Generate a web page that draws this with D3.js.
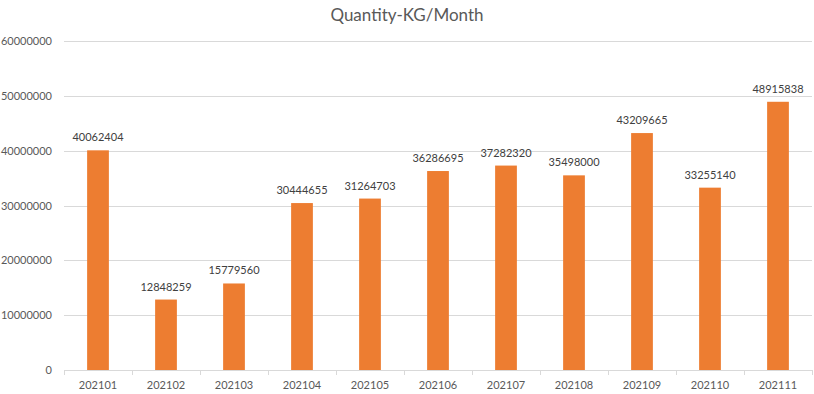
<!DOCTYPE html>
<html><head><meta charset="utf-8">
<script src="https://cdn.jsdelivr.net/npm/d3@7"></script>
<style>body{margin:0;background:#fff}svg{display:block}text{font-family:Lato,"Open Sans",sans-serif}</style>
</head><body><svg id="c" width="814" height="394"></svg>
<script>
const months = ["202101","202102","202103","202104","202105","202106","202107","202108","202109","202110","202111"];
const quantities = [40062404,12848259,15779560,30444655,31264703,36286695,37282320,35498000,43209665,33255140,48915838];
const yTicks = [0,10000000,20000000,30000000,40000000,50000000,60000000];
const title = "Quantity-KG/Month";

(function(){
const svg = d3.select("#c");
const pL = 64, pR = 812, pT = 41, pB = 370;
const x = d3.scaleBand().domain(months).range([pL, pR]).paddingInner(0.68).paddingOuter(0.34);
const y = d3.scaleLinear().domain([0, 60000000]).range([pB, pT]);

svg.append("text").attr("x", 407).attr("y", 21).attr("text-anchor","middle")
  .attr("font-size", 17).attr("fill", "#595959").text(title);

svg.append("g").selectAll("line").data(yTicks.filter(d=>d>0)).enter().append("line")
  .attr("x1", pL).attr("x2", pR).attr("y1", d=>Math.round(y(d))+0.5).attr("y2", d=>Math.round(y(d))+0.5)
  .attr("stroke", "#D9D9D9").attr("stroke-width", 1);

const yAxis = svg.append("g").attr("transform", `translate(${pL},0)`)
  .call(d3.axisLeft(y).tickValues(yTicks).tickFormat(d=>String(d)).tickSize(0).tickPadding(12));
yAxis.select(".domain").remove();
yAxis.selectAll("text").attr("font-size", 11).attr("fill", "#595959").style("font-family","Lato,'Open Sans',sans-serif");

svg.selectAll("rect.bar").data(quantities).enter().append("rect")
  .attr("x", (d,i)=>x(months[i])).attr("width", x.bandwidth())
  .attr("y", d=>y(d)).attr("height", d=>y(0)-y(d)).attr("fill", "#ED7D31");

svg.selectAll("text.lbl").data(quantities).enter().append("text")
  .attr("x", (d,i)=>x(months[i])+x.bandwidth()/2).attr("y", d=>y(d)-9)
  .attr("text-anchor","middle").attr("font-size", 11).attr("fill", "#404040").text(d=>d);

const xAxis = svg.append("g").attr("transform", `translate(0,${pB})`);
const step = (pR-pL)/months.length;
xAxis.append("line").attr("x1", pL).attr("x2", pR).attr("y1", 0.5).attr("y2", 0.5).attr("stroke","#D9D9D9");
xAxis.selectAll("line.tk").data(d3.range(months.length+1)).enter().append("line")
  .attr("x1", i=>Math.round(pL+i*step)+0.5).attr("x2", i=>Math.round(pL+i*step)+0.5)
  .attr("y1", 0).attr("y2", 5).attr("stroke","#D9D9D9");
xAxis.selectAll("text.xl").data(months).enter().append("text")
  .attr("x", d=>x(d)+x.bandwidth()/2).attr("y", 19).attr("text-anchor","middle")
  .attr("font-size", 11).attr("fill","#595959").text(d=>d);
})();
</script></body></html>
